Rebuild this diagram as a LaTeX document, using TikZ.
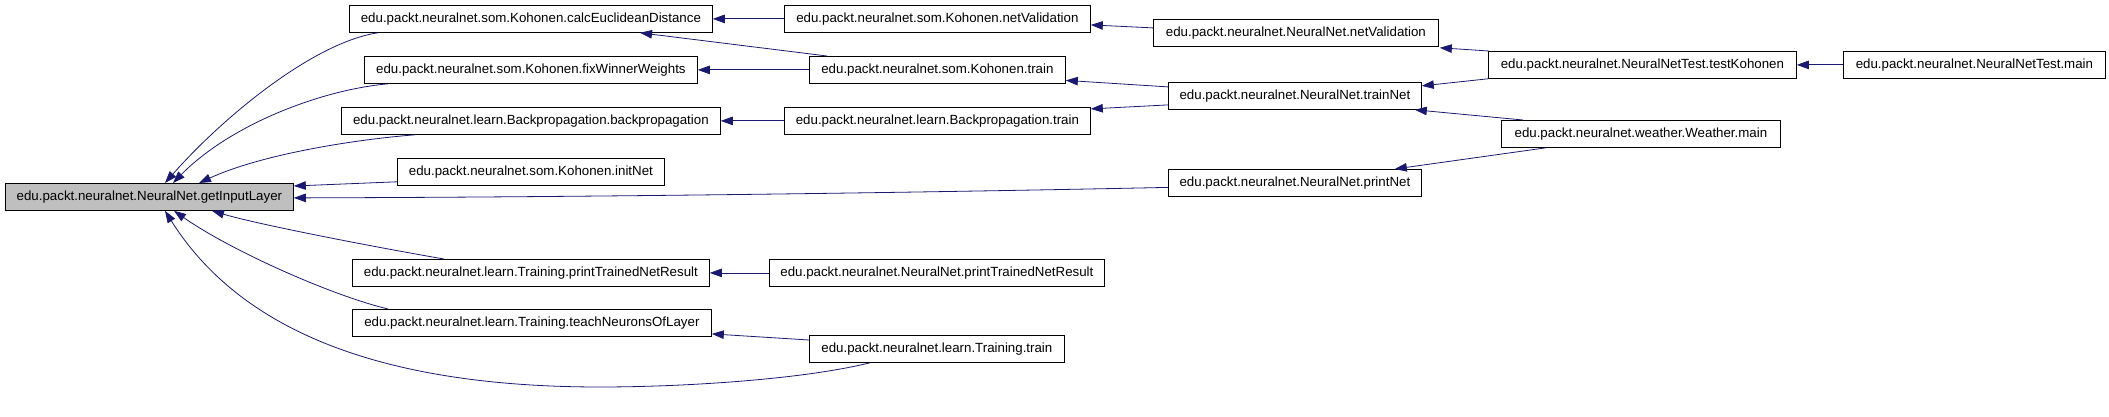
\documentclass[tikz,border=0pt]{standalone}
\usepackage{fontspec}
\setmainfont{Liberation Sans}
\usetikzlibrary{arrows.meta,calc}
\definecolor{edgeblue}{RGB}{25,25,112}
\definecolor{boxgray}{RGB}{191,191,191}
\begin{document}
\begin{tikzpicture}[x=1pt,y=-1pt,
  box/.style={draw=black, line width=0.8pt, fill=white, minimum height=27pt,
    inner sep=0pt, anchor=north west, font=\fontsize{13.3}{16}\selectfont},
  edge/.style={draw=edgeblue, line width=0.8pt,
    -{Triangle[length=12pt,width=8.5pt]}}]
\useasboundingbox (0,0) rectangle (2109,417);

% nodes
\node[box, fill=boxgray, minimum width=288pt] (gil) at (5,183) {edu.packt.neuralnet.NeuralNet.getInputLayer};
\node[box, minimum width=363pt] (calc) at (349,5) {edu.packt.neuralnet.som.Kohonen.calcEuclideanDistance};
\node[box, minimum width=333pt] (fix) at (364,56) {edu.packt.neuralnet.som.Kohonen.fixWinnerWeights};
\node[box, minimum width=379pt] (bpbp) at (341,107) {edu.packt.neuralnet.learn.Backpropagation.backpropagation};
\node[box, minimum width=267pt] (init) at (397,158) {edu.packt.neuralnet.som.Kohonen.initNet};
\node[box, minimum width=357pt] (tptr) at (352,259) {edu.packt.neuralnet.learn.Training.printTrainedNetResult};
\node[box, minimum width=359pt] (teach) at (352,309) {edu.packt.neuralnet.learn.Training.teachNeuronsOfLayer};
\node[box, minimum width=306pt] (knv) at (784,5) {edu.packt.neuralnet.som.Kohonen.netValidation};
\node[box, minimum width=256pt] (ktrain) at (809,56) {edu.packt.neuralnet.som.Kohonen.train};
\node[box, minimum width=306pt] (bptrain) at (784,107) {edu.packt.neuralnet.learn.Backpropagation.train};
\node[box, minimum width=335pt] (nptr) at (769,259) {edu.packt.neuralnet.NeuralNet.printTrainedNetResult};
\node[box, minimum width=255pt] (ttrain) at (809,335) {edu.packt.neuralnet.learn.Training.train};
\node[box, minimum width=285pt] (nnv) at (1153,19) {edu.packt.neuralnet.NeuralNet.netValidation};
\node[box, minimum width=253pt] (trainNet) at (1168,82) {edu.packt.neuralnet.NeuralNet.trainNet};
\node[box, minimum width=253pt] (printNet) at (1168,169) {edu.packt.neuralnet.NeuralNet.printNet};
\node[box, minimum width=308pt] (testK) at (1488,51) {edu.packt.neuralnet.NeuralNetTest.testKohonen};
\node[box, minimum width=279pt] (wmain) at (1501,120) {edu.packt.neuralnet.weather.Weather.main};
\node[box, minimum width=262pt] (ntmain) at (1843,51) {edu.packt.neuralnet.NeuralNetTest.main};

% edges into getInputLayer
\draw[edge] ($(calc.south west)+(29,0)$) .. controls (315,42) and (225,115) .. ($(gil.north west)+(160,0)$);
\draw[edge] ($(fix.south west)+(24,0)$) .. controls (320,90) and (230,125) .. ($(gil.north west)+(168,0)$);
\draw[edge] ($(bpbp.south west)+(74,0)$) .. controls (350,140) and (260,155) .. ($(gil.north west)+(194,0)$);
\draw[edge] ($(init.south west)+(0,-4)$) -- ($(gil.north east)+(0,3)$);
\draw[edge] ($(printNet.west)+(0,4.5)$) .. controls (900,193) and (600,197) .. ($(gil.east)+(0,1)$);
\draw[edge] ($(tptr.north west)+(92,0)$) .. controls (380,248) and (260,225) .. ($(gil.south west)+(207,0)$);
\draw[edge] ($(teach.north west)+(36,0)$) .. controls (330,295) and (230,250) .. ($(gil.south west)+(169,0)$);
\draw[edge] ($(ttrain.south west)+(61,0)$) .. controls (800,380) and (680,387) .. (600,387)
   .. controls (380,387) and (240,330) .. ($(gil.south west)+(160,0)$);

% other edges
\draw[edge] (knv.west) -- (calc.east);
\draw[edge] ($(ktrain.north west)+(18,0)$) -- ($(calc.south west)+(291,0)$);
\draw[edge] (ktrain.west) -- (fix.east);
\draw[edge] (bptrain.west) -- (bpbp.east);
\draw[edge] (nptr.west) -- (tptr.east);
\draw[edge] ($(ttrain.north west)+(0,5)$) -- ($(teach.east)+(0,11)$);
\draw[edge] ($(nnv.west)+(0,-5)$) -- ($(knv.east)+(0,6)$);
\draw[edge] ($(trainNet.west)+(0,-9)$) -- ($(ktrain.east)+(0,10.5)$);
\draw[edge] ($(trainNet.west)+(0,9)$) -- ($(bptrain.east)+(0,-12)$);
\draw[edge] ($(testK.north west)+(1,0)$) -- ($(nnv.south east)+(1,1)$);
\draw[edge] (testK.south west) -- ($(trainNet.east)+(0,-10)$);
\draw[edge] ($(wmain.north west)+(22,0)$) -- ($(trainNet.south east)+(-7,0)$);
\draw[edge] ($(wmain.south west)+(45,0)$) -- ($(printNet.north east)+(-27,0)$);
\draw[edge] (ntmain.west) -- (testK.east);
\end{tikzpicture}
\end{document}
